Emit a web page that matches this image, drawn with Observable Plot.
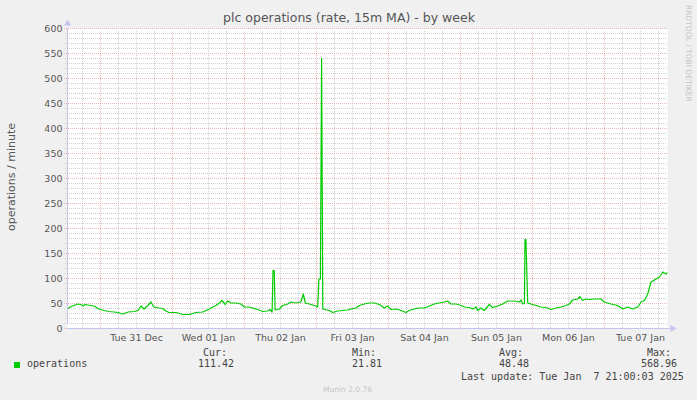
<!DOCTYPE html>
<html>
<head>
<meta charset="utf-8">
<script src="https://cdn.jsdelivr.net/npm/d3@7"></script>
<script src="https://cdn.jsdelivr.net/npm/@observablehq/plot@0.6"></script>
<style>
  html, body { margin: 0; padding: 0; background: #f0f0f0; }
  #wrap { position: relative; width: 697px; height: 400px; overflow: hidden; }
  #wrap svg { position: absolute; left: 0; top: 0; }
</style>
</head>
<body>
<div id="wrap"></div>
<script>
// ---- data ----
const startTime = "2024-12-30T13:00:00Z";   // left edge of graph
const spanHours = 200;                        // graph covers 200 hours
const title = "plc operations (rate, 15m MA) - by week";
const yLabel = "operations / minute";
const seriesName = "operations";
const statLabels = ["Cur:", "Min:", "Avg:", "Max:"];
const statValues = ["111.42", "21.81", "48.48", "568.96"];
const lastUpdate = "Last update: Tue Jan  7 21:00:03 2025";
const yTicks = [0, 50, 100, 150, 200, 250, 300, 350, 400, 450, 500, 550, 600];

// hours after startTime, and the rate value at that moment
const hours = [
  0, 1.2, 3.4, 4.5, 5.2, 5.8, 6.8, 8.8, 10.5, 12.2, 13.8, 15.5, 16.8, 18.5, 20.2, 22.2, 23.5,
  24.5, 25.5, 26.8, 27.8, 28.8, 30.5, 31.8, 32.8, 33.8, 36.2, 38.4, 40.6, 42.8, 45.1, 46.2,
  47.3, 48.4, 49.5, 50.6, 51.5, 52.6, 53.4, 54.5, 56.2, 57.8, 58.9, 60.6, 61.7, 63.4, 65.1,
  66.7, 67.5, 68.2, 68.5, 68.9, 69.2, 70.6, 71.7, 73.4, 74.5, 76.2, 77.8, 78.6, 79.3, 80.6,
  82.3, 83.4, 83.8, 84.3, 84.7, 85.1, 87.3, 88.4, 90.1, 91.7, 93.4, 94.5, 96.2, 97.3, 98.9,
  100.6, 102.3, 103.9, 104.5, 105.6, 106.7, 107.8, 109.5, 111.2, 112.8, 113.9, 115.6, 117.3,
  118.9, 120.6, 122.3, 123.9, 125.6, 126.7, 127.8, 129.5, 131.2, 132.3, 133.9, 135.1, 136.2,
  136.7, 137.8, 138.9, 140.6, 141.7, 143.4, 145.1, 146.7, 148.9, 150.6, 151.2, 151.7, 152.3,
  152.5, 152.8, 153.4, 154.5, 156.2, 157.8, 159.5, 161.2, 162.8, 164.5, 166.2, 167.3, 168.4,
  170.1, 170.8, 171.7, 172.8, 173.9, 175.6, 177.8, 178.9, 181.2, 183.4, 185.1, 186.7, 188.4,
  190.1, 191.2, 192.3, 193.4, 194.5, 196.2, 197.3, 198.4, 199.5, 199.8
];
const values = [
  39, 44, 49, 48, 45, 48, 47, 45, 39, 36, 34, 33, 32, 29, 33, 34, 36,
  45, 39, 46, 53, 43, 41, 40, 35, 32, 32, 28, 28, 32, 33, 36,
  39, 43, 46, 51, 56, 48, 55, 51, 51, 49, 43, 43, 41, 38, 34,
  35, 38, 33, 116, 116, 37, 39, 46, 49, 53, 51, 53, 69, 51, 49,
  46, 43, 99, 99, 540, 39, 36, 32, 35, 36, 37, 39, 41, 46, 49,
  51, 51, 48, 46, 41, 45, 38, 39, 36, 32, 36, 39, 41,
  41, 45, 49, 51, 53, 55, 49, 49, 46, 43, 42, 39, 43,
  36, 41, 36, 48, 42, 45, 49, 55, 55, 53, 57, 49, 50,
  178, 178, 51, 49, 46, 43, 42, 38, 41, 43, 46, 49, 57,
  59, 64, 56, 59, 58, 59, 59, 53, 49, 46, 39, 43, 39,
  43, 53, 56, 69, 93, 99, 103, 113, 109, 111
];

// ---- build ----
const t0 = new Date(startTime);
const t1 = new Date(+t0 + spanHours * 3600e3);
const data = hours.map((h, i) => ({ t: new Date(+t0 + h * 3600e3), v: values[i] }));

const sixHours = d3.utcHour.every(6).range(t0, new Date(+t1 + 1));
const minorX = sixHours.filter(d => d.getUTCHours() !== 0);
const majorX = d3.utcDay.range(t0, t1);
const noonTicks = majorX.map(d => new Date(+d + 12 * 3600e3)).filter(d => d < t1);
const minorY = d3.range(0, 601, 10).filter(v => v % 50 !== 0);

const axisColor = "#c4c4f0";
const minorColor = "#cfcfcf";
const majorColor = "#eeb4b4";
const textColor = "#555";

const chart = Plot.plot({
  width: 697,
  height: 400,
  marginLeft: 67,
  marginRight: 30,
  marginTop: 28,
  marginBottom: 72,
  style: { background: "transparent", fontFamily: "DejaVu Sans", fontSize: "9.5px", color: textColor },
  x: { type: "utc", domain: [t0, t1] },
  y: { domain: [0, 600] },
  marks: [
    Plot.frame({ fill: "white", stroke: null }),
    Plot.ruleY(minorY, { stroke: minorColor, strokeDasharray: "1,1", insetLeft: -2, x1: t0, x2: t1 }),
    Plot.ruleX(minorX, { stroke: minorColor, strokeDasharray: "1,1", insetBottom: -2, y1: 0, y2: 600 }),
    Plot.ruleY(yTicks, { stroke: majorColor, strokeDasharray: "1,1", insetLeft: -3, x1: t0, x2: t1 }),
    Plot.ruleX(majorX, { stroke: majorColor, strokeDasharray: "1,1", insetBottom: -4, y1: 0, y2: 600 }),
    Plot.axisY(yTicks, { tickSize: 0, tickPadding: 5, fontSize: 9.5, fill: textColor, label: null }),
    Plot.axisX(noonTicks, { tickSize: 0, tickPadding: 6, fontSize: 9.5, fill: textColor, label: null,
      tickFormat: d3.utcFormat("%a %d %b") }),
    Plot.lineY(data, { x: "t", y: "v", stroke: "#00cc00", strokeWidth: 1.2 }),
    // axes with arrows
    Plot.ruleX([t0], { y1: 0, y2: 600, stroke: axisColor, insetTop: -4 }),
    Plot.ruleY([0], { x1: t0, x2: t1, stroke: axisColor, insetRight: -4 }),
    Plot.dot([t0], { x: d => d, y: 600, dy: -5, symbol: "triangle", r: 2.6, fill: axisColor, stroke: null }),
    Plot.dot([t1], { x: d => d, y: 0, dx: 5, symbol: "triangle", rotate: 90, r: 2.6, fill: axisColor, stroke: null })
  ]
});
document.getElementById("wrap").appendChild(chart);

// ---- texts (title, labels, legend) ----
const svg = d3.select("#wrap").append("svg")
  .attr("width", 697).attr("height", 400)
  .style("pointer-events", "none");

svg.append("text").text(title)
  .attr("x", 349).attr("y", 22).attr("text-anchor", "middle")
  .attr("font-family", "DejaVu Sans").attr("font-size", 12.5).attr("fill", textColor);

svg.append("text").text(yLabel)
  .attr("transform", "translate(15,177) rotate(-90)").attr("text-anchor", "middle")
  .attr("font-family", "DejaVu Sans").attr("font-size", 11).attr("fill", textColor);

svg.append("text").text("RRDTOOL / TOBI OETIKER")
  .attr("transform", "translate(686,5) rotate(90)").attr("text-anchor", "start")
  .attr("font-family", "DejaVu Sans").attr("font-size", 7.5).attr("fill", "#c4c4c4");

svg.append("rect").attr("x", 14).attr("y", 362).attr("width", 6).attr("height", 6).attr("fill", "#00cc00");

const mono = { "font-family": "DejaVu Sans Mono", "font-size": 10, fill: "#444" };
function mtext(s, x, y) {
  const t = svg.append("text").text(s).attr("x", x).attr("y", y).attr("xml:space", "preserve")
    .style("white-space", "pre");
  for (const k in mono) t.attr(k, mono[k]);
  return t;
}
mtext(seriesName, 27, 367);
const labelX = [203, 352, 499, 647];
const valueX = [198, 352, 499, 641];
statLabels.forEach((s, i) => mtext(s, labelX[i], 356));
statValues.forEach((s, i) => mtext(s, valueX[i], 367));
mtext(lastUpdate, 461, 380);

svg.append("text").text("Munin 2.0.76")
  .attr("x", 323).attr("y", 392)
  .attr("font-family", "DejaVu Sans").attr("font-size", 7.5).attr("fill", "#c4c4c4");
</script>
</body>
</html>
